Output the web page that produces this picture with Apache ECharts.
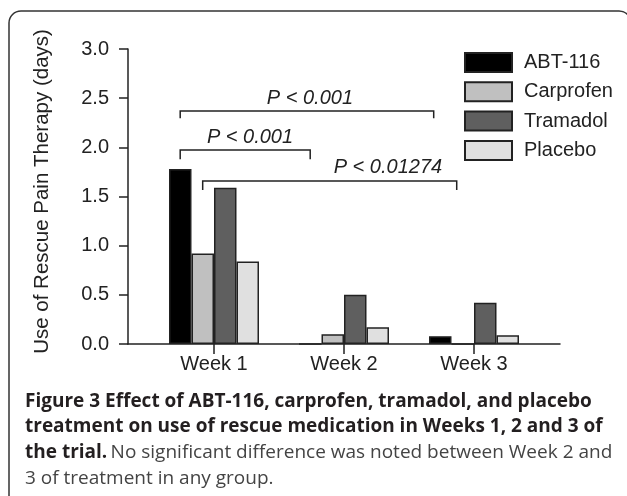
<!DOCTYPE html>
<html>
<head>
<meta charset="utf-8">
<script src="https://cdn.jsdelivr.net/npm/echarts@6/dist/echarts.min.js"></script>
<style>
html,body{margin:0;padding:0;background:#fff;}
#chart{width:627px;height:496px;}
</style>
</head>
<body>
<div id="chart"></div>
<script>
// ---- data ----
const weeks = ['Week 1', 'Week 2', 'Week 3'];
const weekPos = [0, 1, 2];
const seriesNames = ['ABT-116', 'Carprofen', 'Tramadol', 'Placebo'];
const abt116 = [1.78, 0, 0.08];
const carprofen = [0.92, 0.10, 0];
const tramadol = [1.59, 0.50, 0.42];
const placebo = [0.84, 0.17, 0.09];
const yTicks = [0, 0.5, 1.0, 1.5, 2.0, 2.5, 3.0];

// significance brackets (data units)
const bracketLabels = ['P < 0.001', 'P < 0.001', 'P < 0.01274'];
const bracketFrom = [-0.26, -0.26, -0.087];
const bracketTo = [1.69, 0.74, 1.867];
const bracketLevel = [2.37, 1.973, 1.658];
const bracketFoot = [2.295, 1.88, 1.566];
const labelX = [0.738, 0.277, 1.338];
const labelY = [2.497, 2.10, 1.797];

const captionLines = [
  'Figure 3 Effect of ABT-116, carprofen, tramadol, and placebo',
  'treatment on use of rescue medication in Weeks 1, 2 and 3 of',
  'the trial.',
  'No significant difference was noted between Week 2 and',
  '3 of treatment in any group.'
];

// ---- styles ----
const FONT = '"Liberation Sans", Arial, sans-serif';
const colors = ['#000000', '#c0c0c0', '#5f5f5f', '#e0e0e0'];
const valueSets = [abt116, carprofen, tramadol, placebo];

const chart = echarts.init(document.getElementById('chart'), null, {renderer: 'canvas'});

const barSeries = seriesNames.map((name, i) => ({
  name: name,
  type: 'bar',
  data: weekPos.map((w, j) => [w, valueSets[i][j]]),
  barWidth: 22.5,
  barGap: '0%',
  itemStyle: {color: colors[i], borderColor: '#222', borderWidth: 1.5},
  emphasis: {disabled: true},
  animation: false
}));

const bracketData = bracketLabels.map((l, i) => [bracketFrom[i], bracketTo[i], bracketLevel[i], bracketFoot[i], labelX[i], labelY[i]]);

const bracketSeries = {
  type: 'custom',
  name: 'brackets',
  data: bracketData,
  encode: {x: [0, 1, 4], y: [2, 3, 5]},
  clip: false,
  silent: true,
  animation: false,
  renderItem: function (params, api) {
    const a = api.coord([api.value(0), api.value(2)]);
    const b = api.coord([api.value(1), api.value(2)]);
    const foot = api.coord([api.value(0), api.value(3)]);
    const t = api.coord([api.value(4), api.value(5)]);
    return {
      type: 'group',
      children: [
        {
          type: 'polyline',
          shape: {points: [[a[0], foot[1]], [a[0], a[1]], [b[0], b[1]], [b[0], foot[1]]]},
          style: {stroke: '#222', lineWidth: 1.5, fill: null}
        },
        {
          type: 'text',
          x: t[0], y: t[1],
          style: {
            text: bracketLabels[params.dataIndex],
            font: 'italic 20px ' + FONT,
            fill: '#222',
            align: 'center',
            verticalAlign: 'middle'
          }
        }
      ]
    };
  }
};

const capY = [402, 427, 453, 479];
const capFontB = 'bold 19px "Open Sans", sans-serif';
const capFontN = '19px "Open Sans", sans-serif';

chart.setOption({
  animation: false,
  backgroundColor: '#fff',
  grid: {left: 128, right: 67, top: 49, bottom: 152, containLabel: false},
  legend: {
    data: seriesNames,
    orient: 'vertical',
    left: 459,
    top: 47,
    itemWidth: 47,
    itemHeight: 19,
    itemGap: 8.3,
    icon: 'rect',
    selectedMode: false,
    textStyle: {fontFamily: FONT, fontSize: 20, color: '#222', lineHeight: 19, padding: [0, 0, 0, 7]}
  },
  xAxis: {
    type: 'value',
    min: -0.6615,
    max: 2.6615,
    splitLine: {show: false},
    axisLine: {show: true, onZero: true, lineStyle: {color: '#222', width: 1.5}},
    axisTick: {show: true, customValues: weekPos, length: 10, inside: false, lineStyle: {color: '#222', width: 1.5}},
    axisLabel: {
      customValues: weekPos,
      formatter: v => weeks[Math.round(v)],
      fontFamily: FONT, fontSize: 20, color: '#222', margin: 10
    }
  },
  yAxis: {
    type: 'value',
    min: yTicks[0],
    max: yTicks[yTicks.length - 1],
    interval: 0.5,
    splitLine: {show: false},
    axisLine: {show: true, onZero: false, lineStyle: {color: '#222', width: 1.5}},
    axisTick: {show: true, length: 9, lineStyle: {color: '#222', width: 1.5}},
    axisLabel: {
      formatter: v => v.toFixed(1),
      fontFamily: FONT, fontSize: 20, color: '#222', margin: 19
    },
    name: 'Use of Rescue Pain Therapy (days)',
    nameLocation: 'middle',
    nameGap: 75,
    nameRotate: 90,
    nameTextStyle: {fontFamily: FONT, fontSize: 20.5, color: '#222', padding: [0, 0, 0, 10]}
  },
  series: barSeries.concat([bracketSeries]),
  graphic: [
    {
      type: 'rect',
      shape: {x: 9, y: 11, width: 622, height: 520, r: 12},
      style: {fill: null, stroke: '#333', lineWidth: 1.5},
      silent: true
    },
    {type: 'text', x: 25, y: capY[0], style: {text: captionLines[0], font: capFontB, fill: '#231f20', verticalAlign: 'middle'}},
    {type: 'text', x: 25, y: capY[1], style: {text: captionLines[1], font: capFontB, fill: '#231f20', verticalAlign: 'middle'}},
    {type: 'text', x: 25, y: capY[2], style: {
      text: '{b|' + captionLines[2] + '} {n|' + captionLines[3] + '}',
      verticalAlign: 'middle',
      rich: {
        b: {font: capFontB, fill: '#231f20'},
        n: {font: capFontN, fill: '#444'}
      }
    }},
    {type: 'text', x: 25, y: capY[3], style: {text: captionLines[4], font: capFontN, fill: '#444', verticalAlign: 'middle'}}
  ]
});
</script>
</body>
</html>
